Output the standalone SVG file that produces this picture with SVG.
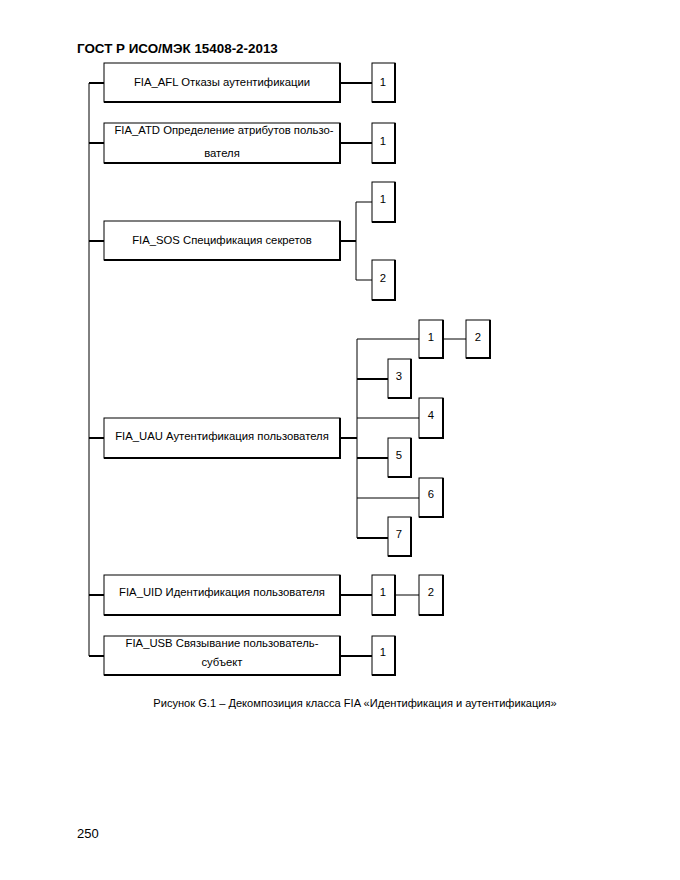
<svg xmlns="http://www.w3.org/2000/svg" width="680" height="880" viewBox="0 0 680 880">
<style>
.bx{fill:#fff;stroke:#000;stroke-width:1}
.sh{fill:none;stroke:#000;stroke-width:2}
.t{font-family:"Liberation Sans",Arial,sans-serif;font-size:11.3px;fill:#000;text-anchor:middle}
.thin{stroke:#000;stroke-width:1;fill:none}
.thick{stroke:#000;stroke-width:2;fill:none}
</style>
<rect width="680" height="880" fill="#fff"/>
<text x="77" y="53" font-family="'Liberation Sans',Arial,sans-serif" font-size="13.4" font-weight="bold">ГОСТ Р ИСО/МЭК 15408-2-2013</text>
<g id="connectors">
<path class="thin" d="M89 83V656"/>
<path class="thick" d="M89 83H104M89 143H104M89 241H104M89 438H104M89 595H104M89 656H104"/>
<path class="thick" d="M340 83H372M340 143H372M340 241H356M340 438H357M340 595H372M340 656H372"/>
<path class="thin" d="M356 202V280M356 202H372M356 280H372"/>
<path class="thin" d="M357 339V538M357 339H419M443 339H466M357 418H419M357 498H419"/>
<path class="thick" d="M357 379H388M357 458H388M357 538H388"/>
<path class="thin" d="M395 595H419"/>
</g>
<g id="afl"><rect class="bx" x="104" y="63" width="236" height="39"/><path class="sh" d="M340 63V102H104"/><text class="t" x="222" y="86">FIA_AFL Отказы аутентификации</text></g>
<g id="afl1"><rect class="bx" x="372" y="63" width="23" height="39"/><path class="sh" d="M395 63V102H372"/><text class="t" x="383" y="86">1</text></g>
<g id="atd"><rect class="bx" x="104" y="123" width="236" height="40"/><path class="sh" d="M340 123V163H104"/><text class="t" x="224" y="134">FIA_ATD Определение атрибутов пользо-</text><text class="t" x="222" y="157">вателя</text></g>
<g id="atd1"><rect class="bx" x="372" y="123" width="23" height="40"/><path class="sh" d="M395 123V163H372"/><text class="t" x="383" y="145">1</text></g>
<g id="sos"><rect class="bx" x="104" y="221" width="236" height="39"/><path class="sh" d="M340 221V260H104"/><text class="t" x="222" y="244">FIA_SOS Спецификация секретов</text></g>
<g id="sos1"><rect class="bx" x="372" y="182" width="23" height="40"/><path class="sh" d="M395 182V222H372"/><text class="t" x="383" y="203">1</text></g>
<g id="sos2"><rect class="bx" x="372" y="260" width="23" height="40"/><path class="sh" d="M395 260V300H372"/><text class="t" x="383" y="282">2</text></g>
<g id="uau"><rect class="bx" x="104" y="418" width="236" height="40"/><path class="sh" d="M340 418V458H104"/><text class="t" x="222" y="440">FIA_UAU Аутентификация пользователя</text></g>
<g id="uau1"><rect class="bx" x="419" y="320" width="24" height="38"/><path class="sh" d="M443 320V358H419"/><text class="t" x="431" y="341">1</text></g>
<g id="uau2"><rect class="bx" x="466" y="320" width="24" height="38"/><path class="sh" d="M490 320V358H466"/><text class="t" x="478" y="341">2</text></g>
<g id="uau3"><rect class="bx" x="388" y="359" width="23" height="39"/><path class="sh" d="M411 359V398H388"/><text class="t" x="399" y="380">3</text></g>
<g id="uau4"><rect class="bx" x="419" y="398" width="24" height="40"/><path class="sh" d="M443 398V438H419"/><text class="t" x="431" y="419">4</text></g>
<g id="uau5"><rect class="bx" x="388" y="438" width="23" height="39"/><path class="sh" d="M411 438V477H388"/><text class="t" x="399" y="459">5</text></g>
<g id="uau6"><rect class="bx" x="419" y="478" width="24" height="39"/><path class="sh" d="M443 478V517H419"/><text class="t" x="431" y="498">6</text></g>
<g id="uau7"><rect class="bx" x="388" y="517" width="23" height="39"/><path class="sh" d="M411 517V556H388"/><text class="t" x="399" y="538">7</text></g>
<g id="uid"><rect class="bx" x="104" y="575" width="236" height="40"/><path class="sh" d="M340 575V615H104"/><text class="t" x="222" y="596">FIA_UID Идентификация пользователя</text></g>
<g id="uid1"><rect class="bx" x="372" y="575" width="23" height="40"/><path class="sh" d="M395 575V615H372"/><text class="t" x="383" y="596">1</text></g>
<g id="uid2"><rect class="bx" x="419" y="575" width="24" height="40"/><path class="sh" d="M443 575V615H419"/><text class="t" x="431" y="596">2</text></g>
<g id="usb"><rect class="bx" x="104" y="636" width="236" height="39"/><path class="sh" d="M340 636V675H104"/><text class="t" x="222" y="647">FIA_USB Связывание пользователь-</text><text class="t" x="222" y="666">субъект</text></g>
<g id="usb1"><rect class="bx" x="372" y="636" width="23" height="39"/><path class="sh" d="M395 636V675H372"/><text class="t" x="383" y="656">1</text></g>
<text x="355" y="707" font-family="'Liberation Sans',Arial,sans-serif" font-size="11.1" text-anchor="middle">Рисунок G.1 – Декомпозиция класса FIA «Идентификация и аутентификация»</text>
<text x="77" y="838" font-family="'Liberation Sans',Arial,sans-serif" font-size="13">250</text>
</svg>
